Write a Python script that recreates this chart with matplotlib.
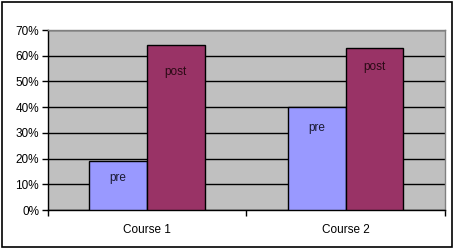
import matplotlib
matplotlib.use("Agg")
import matplotlib.pyplot as plt
import numpy as np
from matplotlib.patches import Rectangle

categories = ["Course 1", "Course 2"]
pre_values = [19, 40]
post_values = [64, 63]
series_labels = ["pre", "post"]
y_ticks = [0, 10, 20, 30, 40, 50, 60, 70]
y_tick_labels = ["0%", "10%", "20%", "30%", "40%", "50%", "60%", "70%"]

plt.rcParams['font.family'] = ['Liberation Sans', 'DejaVu Sans']

fig = plt.figure(figsize=(4.55, 2.49), dpi=100)
ax = fig.add_axes([47.5/455, 39/249, (445-47.5)/455, (210-30)/249])

x = np.arange(len(categories))
w = 0.29
pre_col = "#9999FF"
post_col = "#993366"
fs = 8.5

ax.set_facecolor("#C0C0C0")
ax.set_axisbelow(True)
ax.yaxis.grid(True, color="black", linewidth=1.0)

ax.bar(x - w/2, pre_values, w, color=pre_col, edgecolor="black", linewidth=1.0, zorder=3)
ax.bar(x + w/2, post_values, w, color=post_col, edgecolor="black", linewidth=1.0, zorder=3)

pre_offsets = [-12, -15]
post_offsets = [-19, -14]
for i in range(len(categories)):
    ax.annotate(series_labels[0], (x[i] - w/2, pre_values[i]), xytext=(0, pre_offsets[i]),
                textcoords="offset points", ha="center", va="center", fontsize=fs, color="#1a1a33", zorder=4)
    ax.annotate(series_labels[1], (x[i] + w/2, post_values[i]), xytext=(0, post_offsets[i]),
                textcoords="offset points", ha="center", va="center", fontsize=fs, color="#2a0a15", zorder=4)

ax.set_xlim(-0.5, len(categories) - 0.5)
ax.set_ylim(0, 70)
ax.set_yticks(y_ticks)
ax.set_yticklabels(y_tick_labels, fontsize=fs)
ax.set_xticks([-0.5, 0.5, 1.5])
ax.set_xticklabels([])
ax.set_xticks(x, minor=True)
ax.set_xticklabels(categories, minor=True, fontsize=fs)
ax.tick_params(axis='x', which='minor', length=0, pad=10)
ax.tick_params(axis='x', which='major', length=4, width=1, color="black", direction="out")
ax.tick_params(axis='y', length=4, width=1, color="black", direction="out", pad=2)

for s in ["top", "right"]:
    ax.spines[s].set_color("#808080")
    ax.spines[s].set_linewidth(1.0)
for s in ["left", "bottom"]:
    ax.spines[s].set_color("black")
    ax.spines[s].set_linewidth(1.0)

fig.patches.append(Rectangle((2/455, 2/249), 450/455, 245/249, transform=fig.transFigure,
                             fill=False, edgecolor="black", linewidth=1.2))

fig.savefig("out.png", dpi=100)
